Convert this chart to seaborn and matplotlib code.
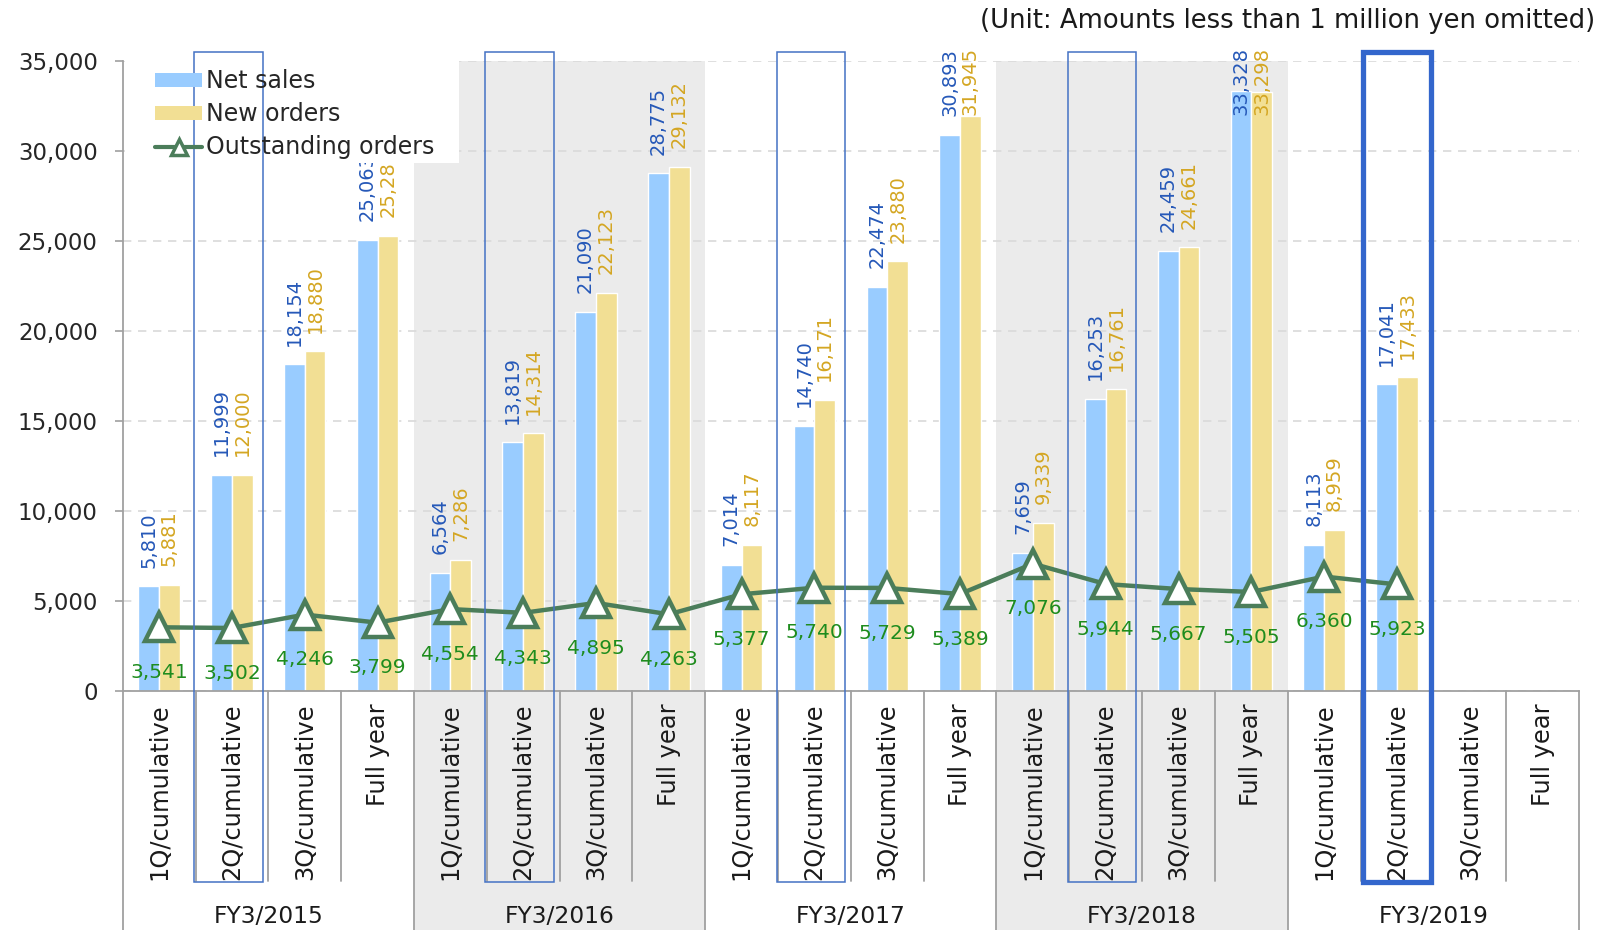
import numpy as np
import pandas as pd
import matplotlib
matplotlib.use("Agg")
import matplotlib.pyplot as plt
from matplotlib.patches import Rectangle, Patch
from matplotlib.lines import Line2D
from matplotlib.transforms import blended_transform_factory
import seaborn as sns

# ---------------- data ----------------
years = ["FY3/2015", "FY3/2016", "FY3/2017", "FY3/2018", "FY3/2019"]
periods = ["1Q/cumulative", "2Q/cumulative", "3Q/cumulative", "Full year"]
net_sales = [5810, 11999, 18154, 25063,
             6564, 13819, 21090, 28775,
             7014, 14740, 22474, 30893,
             7659, 16253, 24459, 33328,
             8113, 17041]
new_orders = [5881, 12000, 18880, 25283,
              7286, 14314, 22123, 29132,
              8117, 16171, 23880, 31945,
              9339, 16761, 24661, 33298,
              8959, 17433]
outstanding = [3541, 3502, 4246, 3799,
               4554, 4343, 4895, 4263,
               5377, 5740, 5729, 5389,
               7076, 5944, 5667, 5505,
               6360, 5923]
series_names = ["Net sales", "New orders", "Outstanding orders"]
yticks = [0, 5000, 10000, 15000, 20000, 25000, 30000, 35000]
unit_note = "(Unit: Amounts less than 1 million yen omitted)"

# ---------------- styling ----------------
C_BLUE = "#99CCFF"
C_YELLOW = "#F2DF94"
C_LINE = "#4B7D5A"
C_TXT_BLUE = "#2558B8"
C_TXT_GOLD = "#D4A622"
C_TXT_GREEN = "#1E8C1E"
C_GRAY_BG = "#EBEBEB"
C_AXIS = "#A0A0A0"
C_HL = "#4472C4"
C_HL_THICK = "#3366CC"

sns.set_theme(style="white")
plt.rcParams["font.family"] = ["DejaVu Sans"]

W, H = 1603, 930
fig = plt.figure(figsize=(W / 100, H / 100), dpi=100)
ax_l, ax_r, ax_t, ax_b = 122.7, 1579.0, 61.3, 691.0
ax = fig.add_axes([ax_l / W, 1 - ax_b / H, (ax_r - ax_l) / W, (ax_b - ax_t) / H])

slots = [f"{y}|{p}" for y in years for p in periods]
n_data = len(net_sales)
df = pd.DataFrame({
    "slot": slots[:n_data] * 2,
    "series": [series_names[0]] * n_data + [series_names[1]] * n_data,
    "value": net_sales + new_orders,
})

sns.barplot(data=df, x="slot", y="value", hue="series", order=slots,
            hue_order=series_names[:2], palette=[C_BLUE, C_YELLOW],
            saturation=1, width=0.57, errorbar=None, legend=False, ax=ax,
            zorder=2)

pos = np.arange(len(outstanding))
sns.lineplot(x=pos, y=outstanding, ax=ax, color=C_LINE, linewidth=3.2,
             marker="^", markersize=20, markerfacecolor="white",
             markeredgecolor=C_LINE, markeredgewidth=3.2, zorder=4,
             legend=False)

ax.set_xlim(-0.5, len(slots) - 0.5)
ax.set_ylim(0, 35000)
ax.set_yticks(yticks)
ax.set_yticklabels([f"{v:,}" for v in yticks], fontsize=16.5, color="#262626")
ax.set_xticks([])
ax.set_xlabel("")
ax.set_ylabel("")
ax.tick_params(axis="y", which="both", left=True, length=6, width=1.2,
               color=C_AXIS, pad=12, direction="out")
for s in ["top", "right"]:
    ax.spines[s].set_visible(False)
ax.spines["left"].set_color(C_AXIS)
ax.spines["bottom"].set_color(C_AXIS)
ax.spines["left"].set_linewidth(1.3)
ax.spines["bottom"].set_linewidth(1.3)
ax.spines["left"].set_zorder(5.5)
ax.yaxis.grid(True, color="#D9D9D9", linestyle=(0, (5, 4)), linewidth=1.2)
ax.set_axisbelow(True)

# bar value labels
bar_labels = []
for cont, col in zip(ax.containers[:2], [C_TXT_BLUE, C_TXT_GOLD]):
    for bar in cont:
        h = bar.get_height()
        if np.isnan(h):
            continue
        xc = bar.get_x() + bar.get_width() / 2
        t = ax.annotate(f"{int(round(h)):,}", xy=(xc, h),
                        xytext=(0, 13.5), textcoords="offset points",
                        rotation=90, ha="center", va="bottom", fontsize=14,
                        color=col, zorder=3, annotation_clip=False)
        bar_labels.append(t)

# line value labels
for x, v in zip(pos, outstanding):
    ax.annotate(f"{v:,}", xy=(x, v), xytext=(0, -32.5),
                textcoords="offset points", ha="center", va="center",
                fontsize=14.5, color=C_TXT_GREEN, zorder=4)

# mixed transform: x in data, y in figure fraction
bt = blended_transform_factory(ax.transData, fig.transFigure)
ytop_ax = 1 - ax_t / H
ybot_ax = 1 - ax_b / H
ysep = 1 - 881 / H

# gray shading for alternate fiscal years
for gi in [1, 3]:
    ax.add_patch(Rectangle((gi * 4 - 0.5, 0), 4, ytop_ax, transform=bt,
                           facecolor=C_GRAY_BG, edgecolor="none",
                           zorder=0.1, clip_on=False))

# separators in category label area
for b in range(len(slots) + 1):
    xb = b - 0.5
    y0 = 0 if b % 4 == 0 else ysep
    ax.add_line(Line2D([xb, xb], [y0, ybot_ax], transform=bt, color=C_AXIS,
                       linewidth=1.3, clip_on=False, zorder=3))

# category labels
for i, s in enumerate(slots):
    ax.text(i, 1 - 703 / H, s.split("|")[1], transform=bt, rotation=90,
            ha="center", va="top", fontsize=17.4, color="#1A1A1A")
for gi, yl in enumerate(years):
    ax.text(gi * 4 + 1.5, 1 - 916 / H, yl, transform=bt, ha="center",
            va="center", fontsize=16.8, color="#1A1A1A")

# white legend panel + legend
px_w = ax_r - ax_l
px_h = ax_b - ax_t
ax.add_patch(Rectangle((2 / px_w, 1 - (163 - ax_t) / px_h),
                       (459 - ax_l - 2) / px_w,
                       (163 - ax_t) / px_h, transform=ax.transAxes,
                       facecolor="white", edgecolor="none", zorder=4.6))
handles = [Patch(facecolor=C_BLUE, edgecolor="none"),
           Patch(facecolor=C_YELLOW, edgecolor="none"),
           Line2D([0], [0], color=C_LINE, linewidth=3, marker="^",
                  markersize=11, markerfacecolor="white",
                  markeredgecolor=C_LINE, markeredgewidth=2.5)]
leg = fig.legend(handles, series_names, loc="upper left",
                 bbox_to_anchor=(155 / W, 1 - 69.5 / H), frameon=False,
                 fontsize=17, handlelength=2.0, handleheight=0.55,
                 handletextpad=0.15, labelspacing=0.38, borderpad=0,
                 borderaxespad=0)
leg.set_zorder(5)

# highlight boxes around 2Q columns
hl_top = 1 - 51.5 / H
hl_bot = 1 - 882 / H
for gi in range(4):
    i = gi * 4 + 1
    ax.add_patch(Rectangle((i - 0.52, hl_bot), 0.94, hl_top - hl_bot,
                           transform=bt, facecolor="none", edgecolor=C_HL,
                           linewidth=1.1, zorder=6, clip_on=False))
i = 4 * 4 + 1
ax.add_patch(Rectangle((i - 0.465, hl_bot), 0.93, hl_top - hl_bot,
                       transform=bt, facecolor="none", edgecolor=C_HL_THICK,
                       linewidth=3.8, zorder=6, clip_on=False))

fig.text(1 - 8 / W, 1 - 20.5 / H, unit_note, ha="right", va="center",
         fontsize=18.6, color="#1A1A1A")

# keep bar labels from running above the chart (as the source chart does)
fig.canvas.draw()
renderer = fig.canvas.get_renderer()
limit_px = H - 47
for t in bar_labels:
    bb = t.get_window_extent(renderer)
    if bb.y1 > limit_px:
        dx, dy = t.xyann
        t.xyann = (dx, dy - (bb.y1 - limit_px) * 72 / fig.dpi)

fig.savefig("out.png", dpi=100)
